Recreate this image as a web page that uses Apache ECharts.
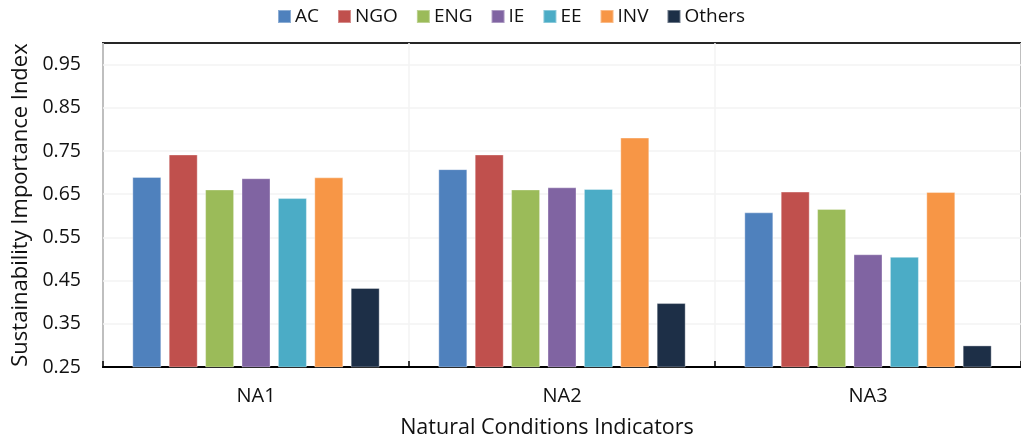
<!DOCTYPE html>
<html>
<head>
<meta charset="utf-8">
<script src="https://cdn.jsdelivr.net/npm/echarts@6/dist/echarts.min.js"></script>
<style>
  html, body { margin: 0; padding: 0; background: #fff; }
  #chart { width: 1021px; height: 444px; }
</style>
</head>
<body>
<div id="chart"></div>
<script>
// Indicator groups along the x axis
const categories = ['NA1', 'NA2', 'NA3'];

// Stakeholder groups, one bar each per indicator
const seriesNames = ['AC', 'NGO', 'ENG', 'IE', 'EE', 'INV', 'Others'];

// Sustainability importance index per stakeholder group (NA1, NA2, NA3)
const acValues     = [0.690, 0.708, 0.608];
const ngoValues    = [0.742, 0.742, 0.656];
const engValues    = [0.661, 0.661, 0.616];
const ieValues     = [0.687, 0.666, 0.511];
const eeValues     = [0.641, 0.662, 0.505];
const invValues    = [0.689, 0.781, 0.655];
const othersValues = [0.433, 0.398, 0.300];

// Labelled values on the y axis
const yTickLabels = ['0.25', '0.35', '0.45', '0.55', '0.65', '0.75', '0.85', '0.95'];

const seriesValues = [acValues, ngoValues, engValues, ieValues, eeValues, invValues, othersValues];
const seriesColors = ['#4F81BD', '#C0504D', '#9BBB59', '#8064A2', '#4BACC6', '#F79646', '#1D2F47'];

const FONT = '"Open Sans", "Noto Sans", sans-serif';
const TEXT = '#111111';
const GRID_LINE = '#f3f3f3';

const chart = echarts.init(document.getElementById('chart'), null, { renderer: 'canvas' });

chart.setOption({
  animation: false,
  backgroundColor: '#ffffff',
  textStyle: { fontFamily: FONT, color: TEXT },
  legend: {
    data: seriesNames,
    left: 272,
    top: 2,
    icon: 'rect',
    itemWidth: 13,
    itemHeight: 13,
    itemGap: 18,
    textStyle: { fontFamily: FONT, fontSize: 19, color: TEXT, padding: [0, 0, 0, -1] }
  },
  grid: {
    left: 103,
    right: -10.5,
    top: 43,
    bottom: 75.5,
    show: true,
    borderColor: '#262626',
    borderWidth: 2,
    containLabel: false
  },
  xAxis: {
    type: 'category',
    data: categories,
    name: 'Natural Conditions Indicators',
    nameLocation: 'middle',
    nameGap: 50,
    nameTextStyle: { fontFamily: FONT, fontSize: 21.5, color: TEXT, padding: [0, 30, 0, 0] },
    axisLine: { show: true, lineStyle: { color: '#000', width: 2 } },
    axisTick: { show: true, inside: true, length: 6, lineStyle: { color: '#000', width: 1.5 } },
    axisLabel: { fontFamily: FONT, fontSize: 20, color: TEXT, margin: 19 },
    splitLine: { show: true, lineStyle: { color: GRID_LINE, width: 1.5 } }
  },
  yAxis: {
    type: 'value',
    min: 0.25,
    max: 1.0,
    interval: 0.05,
    name: 'Sustainability Importance Index',
    nameLocation: 'middle',
    nameGap: 69,
    nameTextStyle: { fontFamily: FONT, fontSize: 22, color: TEXT },
    axisLine: { show: false },
    axisTick: { show: false },
    axisLabel: {
      fontFamily: FONT,
      fontSize: 19.5,
      color: TEXT,
      margin: 22,
      formatter: function (v) {
        const s = v.toFixed(2);
        return yTickLabels.indexOf(s) >= 0 ? s : '';
      }
    },
    splitLine: {
      show: true,
      // only the labelled levels get a visible line
      lineStyle: { color: [GRID_LINE, 'rgba(0,0,0,0)'], width: 1.5 }
    }
  },
  series: seriesNames.map(function (name, i) {
    return {
      name: name,
      type: 'bar',
      data: seriesValues[i],
      barWidth: 29,
      barGap: '25.5%',
      itemStyle: {
        color: seriesColors[i],
        borderColor: 'rgba(255,255,255,0.35)',
        borderWidth: 1
      }
    };
  })
});
</script>
</body>
</html>
